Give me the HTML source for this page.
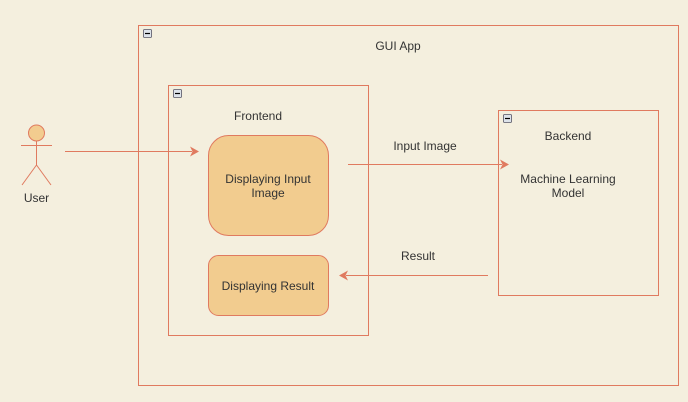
<!DOCTYPE html>
<html><head><style>
html,body{margin:0;padding:0;background:#f4efde;}
svg{display:block}
text{font-family:"Liberation Sans",Arial,sans-serif;font-size:12px;fill:#333;}
</style></head><body>
<svg width="688" height="402" viewBox="0 0 688 402">
<rect x="0" y="0" width="688" height="402" fill="#f4efde"/>
<g fill="none" stroke="#e07a5f" stroke-width="1">
<rect x="138.5" y="25.5" width="540" height="360"/>
<rect x="168.5" y="85.5" width="200" height="250"/>
<rect x="498.5" y="110.5" width="160" height="185"/>
</g>
<g fill="#f2cc8f" stroke="#e07a5f">
<rect x="208.5" y="135.5" width="120" height="100" rx="20"/>
<rect x="208.5" y="255.5" width="120" height="60" rx="10"/>
</g>
<g fill="#dde3ea" stroke="#556" stroke-width="0.8">
<rect x="143.5" y="29.5" width="8" height="8" rx="1"/>
<rect x="173.5" y="89.5" width="8" height="8" rx="1"/>
<rect x="503.5" y="114.5" width="8" height="8" rx="1"/>
</g>
<g stroke="#000" stroke-width="1.2">
<line x1="145" y1="33.5" x2="150" y2="33.5"/>
<line x1="175" y1="93.5" x2="180" y2="93.5"/>
<line x1="505" y1="118.5" x2="510" y2="118.5"/>
</g>
<g stroke="#e07a5f" stroke-width="1" fill="none">
<circle cx="36.5" cy="133" r="8" fill="#f2cc8f"/>
<line x1="36.5" y1="141" x2="36.5" y2="165"/>
<line x1="21" y1="145.5" x2="52" y2="145.5"/>
<line x1="36.5" y1="165" x2="22" y2="185"/>
<line x1="36.5" y1="165" x2="51" y2="185"/>
<line x1="65" y1="151.5" x2="192" y2="151.5"/>
<line x1="348" y1="164.5" x2="502" y2="164.5"/>
<line x1="488" y1="275.5" x2="346" y2="275.5"/>
</g>
<g fill="#e07a5f">
<polygon points="199,151.5 190,146.5 192.5,151.5 190,156.5"/>
<polygon points="509,164.5 500,159.5 502.5,164.5 500,169.5"/>
<polygon points="339,275.5 348,270.5 345.5,275.5 348,280.5"/>
</g>
<text x="36.5" y="202" text-anchor="middle">User</text>
<text x="398" y="50" text-anchor="middle">GUI App</text>
<text x="258" y="120" text-anchor="middle">Frontend</text>
<text x="568" y="140" text-anchor="middle">Backend</text>
<text x="268" y="183" text-anchor="middle">Displaying Input</text>
<text x="268" y="197" text-anchor="middle">Image</text>
<text x="268" y="290" text-anchor="middle">Displaying Result</text>
<text x="425" y="150" text-anchor="middle">Input Image</text>
<text x="418" y="260" text-anchor="middle">Result</text>
<text x="568" y="183" text-anchor="middle">Machine Learning</text>
<text x="568" y="197" text-anchor="middle">Model</text>
</svg>
</body></html>
